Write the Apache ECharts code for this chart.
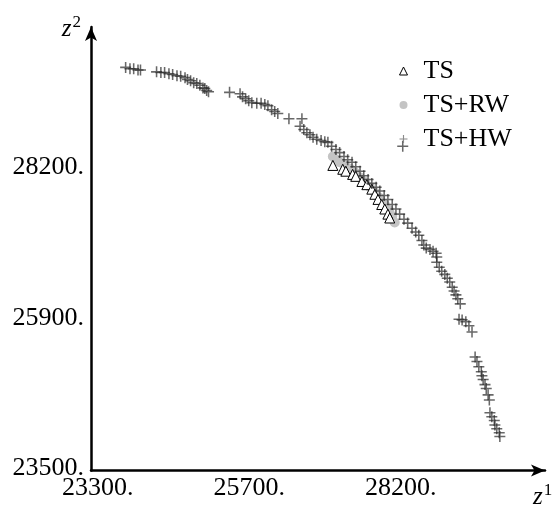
<!DOCTYPE html>
<html>
<head>
<meta charset="utf-8">
<script src="https://cdn.jsdelivr.net/npm/echarts@6/dist/echarts.min.js"></script>
<style>
  html, body { margin: 0; padding: 0; background: #fff; }
  #chart { width: 557px; height: 510px; }
</style>
</head>
<body>
<div id="chart"></div>
<script>
// tick positions and the labels printed under them
var xTickValues = [23300, 25750, 28200];
var xTickLabels = ["23300.", "25700.", "28200."];
var yTickValues = [23500, 25850, 28200];
var yTickLabels = ["23500.", "25900.", "28200."];

// TS (triangles)
var tsData = [
  [27150, 28230], [27310, 28170], [27360, 28140], [27470, 28090], [27520, 28060],
  [27620, 27980], [27700, 27930], [27780, 27860], [27830, 27780], [27880, 27700],
  [27940, 27620], [27990, 27550], [28040, 27470], [28070, 27410]
];

// TS+RW (grey dots)
var rwData = [
  [27150, 28370], [27200, 28320], [27260, 28280], [27350, 28230], [27430, 28180],
  [27510, 28120], [27590, 28040], [27670, 27970], [27750, 27890], [27830, 27810],
  [27910, 27720], [27990, 27620], [28060, 27530], [28110, 27440], [28150, 27340]
];

// TS+HW (crosses)
var hwData = [
  [23800, 29760], [23870, 29740], [23930, 29740], [24000, 29720], [24040, 29720],
  [24300, 29690], [24370, 29680], [24430, 29680], [24500, 29660], [24560, 29650],
  [24630, 29630], [24690, 29620], [24760, 29600], [24800, 29570], [24850, 29550],
  [24900, 29520], [24950, 29510], [25000, 29480], [25050, 29440], [25080, 29430],
  [25110, 29400], [25140, 29380], [25480, 29370], [25650, 29350], [25690, 29300],
  [25740, 29270], [25790, 29240], [25840, 29210], [25920, 29200], [25990, 29200],
  [26050, 29180], [26100, 29160], [26160, 29100], [26210, 29070], [26260, 29040],
  [26440, 28960], [26650, 28960], [26620, 28840], [26680, 28790], [26730, 28740],
  [26780, 28710], [26830, 28670], [26890, 28640], [26960, 28620], [27020, 28600],
  [27070, 28590], [27130, 28530], [27200, 28480], [27260, 28430], [27330, 28370],
  [27390, 28320], [27460, 28280], [27520, 28210], [27590, 28140], [27650, 28070],
  [27720, 28010], [27780, 27950], [27850, 27890], [27910, 27830], [27980, 27760],
  [28040, 27700], [28110, 27620], [28170, 27550], [28230, 27470], [28280, 28530],
  [28300, 27390], [28360, 27330], [28430, 27250], [28490, 27190], [28540, 27140],
  [28590, 27060], [28620, 26990], [28660, 26940], [28720, 26920], [28770, 26890],
  [28820, 26860], [28830, 26800], [28830, 26720], [28870, 26640], [28910, 26580],
  [28960, 26530], [29000, 26470], [29040, 26410], [29080, 26330], [29110, 26270],
  [29140, 26210], [29170, 26150], [29210, 26070], [29190, 25830], [29240, 25820],
  [29300, 25790], [29350, 25730], [29400, 25630], [29450, 25240], [29480, 25170],
  [29510, 25090], [29550, 25010], [29560, 24950], [29580, 24890], [29610, 24810],
  [29630, 24750], [29660, 24650], [29680, 24570], [29690, 24370], [29720, 24310],
  [29760, 24250], [29770, 24180], [29800, 24120], [29840, 24060], [29850, 24000]
];

var serif = "'Liberation Serif', 'DejaVu Serif', serif";
var crossPath = "path://M4.3,0h1.4v4.3h4.3v1.4h-4.3v4.3h-1.4v-4.3h-4.3v-1.4h4.3z";

var myChart = echarts.init(document.getElementById("chart"), null, { renderer: "canvas" });

var option = {
  animation: false,
  backgroundColor: "#fff",
  grid: { left: 91, right: 12, top: 27, bottom: 38 },
  legend: {
    orient: "vertical",
    left: 394,
    top: 53,
    itemWidth: 8,
    itemHeight: 8,
    itemGap: 8,
    textStyle: { fontFamily: serif, fontSize: 26, lineHeight: 26, color: "#000", padding: [0, 0, 0, 11] },
    data: [
      { name: "TS", icon: "triangle", itemStyle: { color: "#fff", borderColor: "#000", borderWidth: 1 } },
      { name: "TS+RW", icon: "circle", itemStyle: { color: "#c4c4c4" } },
      { name: "TS+HW", icon: crossPath, itemStyle: { color: "#8a8a8a" } }
    ]
  },
  xAxis: {
    type: "value",
    min: 23240,
    max: 30580,
    name: "{i|z}{s|1}",
    nameLocation: "end",
    nameGap: -12,
    nameTextStyle: {
      padding: [54, 0, 0, 0],
      rich: {
        i: { fontFamily: serif, fontStyle: "italic", fontSize: 25, color: "#000" },
        s: { fontFamily: serif, fontSize: 17, color: "#000", padding: [0, 0, 14, 1] }
      }
    },
    splitLine: { show: false },
    axisTick: { show: false },
    axisLine: {
      onZero: false,
      symbol: ["none", "arrow"],
      symbolSize: [9, 14],
      lineStyle: { color: "#000", width: 2.5 }
    },
    axisLabel: {
      customValues: xTickValues,
      formatter: function (v) {
        var i = xTickValues.indexOf(v);
        return i >= 0 ? xTickLabels[i] : "";
      },
      fontFamily: serif,
      fontSize: 26,
      color: "#000",
      margin: 5,
      padding: [0, 0, 0, 6]
    }
  },
  yAxis: {
    type: "value",
    min: 23470,
    max: 30390,
    name: "{i|z}{s|2}",
    nameLocation: "end",
    nameGap: -18,
    nameTextStyle: {
      align: "right",
      padding: [0, 10, 0, 0],
      rich: {
        i: { fontFamily: serif, fontStyle: "italic", fontSize: 25, color: "#000" },
        s: { fontFamily: serif, fontSize: 17, color: "#000", padding: [0, 0, 14, 1] }
      }
    },
    splitLine: { show: false },
    axisTick: { show: false },
    axisLine: {
      onZero: false,
      symbol: ["none", "arrow"],
      symbolSize: [9, 14],
      lineStyle: { color: "#000", width: 2.5 }
    },
    axisLabel: {
      customValues: yTickValues,
      formatter: function (v) {
        var i = yTickValues.indexOf(v);
        return i >= 0 ? yTickLabels[i] : "";
      },
      fontFamily: serif,
      fontSize: 26,
      color: "#000",
      margin: 7
    }
  },
  series: [
    {
      name: "TS+RW",
      type: "scatter",
      z: 1,
      data: rwData,
      symbol: "circle",
      symbolSize: 10,
      itemStyle: { color: "#c4c4c4", opacity: 1 }
    },
    {
      name: "TS",
      type: "scatter",
      z: 2,
      data: tsData,
      symbol: "triangle",
      symbolSize: 10,
      itemStyle: { color: "#fff", borderColor: "#000", borderWidth: 1, opacity: 1 }
    },
    {
      name: "TS+HW",
      type: "scatter",
      z: 3,
      data: hwData,
      symbol: crossPath,
      symbolSize: 11,
      itemStyle: { color: "rgba(40,40,40,0.7)", opacity: 1 }
    }
  ]
};

myChart.setOption(option);
</script>
</body>
</html>
